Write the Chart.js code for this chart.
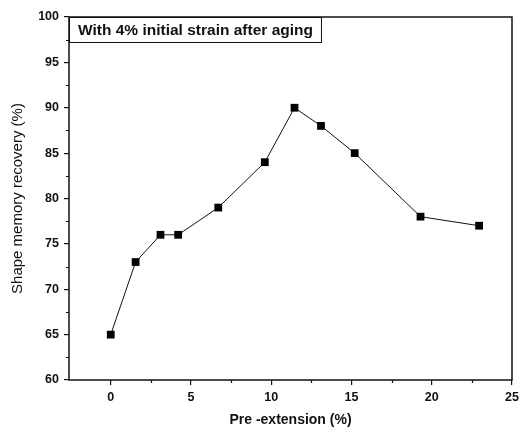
<!DOCTYPE html>
<html>
<head>
<meta charset="utf-8">
<script src="https://cdn.jsdelivr.net/npm/chart.js@4"></script>
<style>
  html, body { margin: 0; padding: 0; background: #fff; }
  #wrap { width: 524px; height: 434px; }
</style>
</head>
<body>
<div id="wrap"><canvas id="myChart" width="524" height="434"></canvas></div>
<script>
// values
const preExtension = [0, 1.55, 3.1, 4.2, 6.7, 9.6, 11.45, 13.1, 15.2, 19.3, 22.95];
const recovery = [65, 73, 76, 76, 79, 84, 90, 88, 85, 78, 77];

const xTicks = [0, 5, 10, 15, 20, 25];
const yTicks = [60, 65, 70, 75, 80, 85, 90, 95, 100];
const xMinorTicks = [2.5, 7.5, 12.5, 17.5, 22.5];
const yMinorTicks = [62.5, 67.5, 72.5, 77.5, 82.5, 87.5, 92.5, 97.5];

const boxLabel = "With 4% initial strain after aging";
const xTitle = "Pre -extension (%)";
const yTitle = "Shape memory recovery (%)";

// frame round the plot, minor ticks and the label box
const framePlugin = {
  id: "frame",
  afterDraw(chart) {
    const ctx = chart.ctx;
    const area = chart.chartArea;
    const xs = chart.scales.x;
    const ys = chart.scales.y;
    ctx.save();
    ctx.strokeStyle = "#111";
    ctx.lineWidth = 1.5;
    ctx.strokeRect(area.left, area.top, area.right - area.left, area.bottom - area.top);

    ctx.lineWidth = 1.2;
    ctx.beginPath();
    xMinorTicks.forEach((v) => {
      const px = Math.round(xs.getPixelForValue(v)) + 0.5;
      ctx.moveTo(px, area.bottom);
      ctx.lineTo(px, area.bottom + 3);
    });
    yMinorTicks.forEach((v) => {
      const py = Math.round(ys.getPixelForValue(v)) + 0.5;
      ctx.moveTo(area.left, py);
      ctx.lineTo(area.left - 3, py);
    });
    ctx.stroke();

    // label box in the upper left corner
    ctx.font = "bold 15.5px 'Liberation Sans', Arial, sans-serif";
    const w = ctx.measureText(boxLabel).width;
    const bx = area.left;
    const by = area.top;
    const bw = w + 17;
    const bh = 25;
    ctx.fillStyle = "#fff";
    ctx.fillRect(bx, by, bw, bh);
    ctx.lineWidth = 1;
    ctx.strokeRect(bx + 0.5, by + 0.5, bw, bh);
    ctx.fillStyle = "#111";
    ctx.textBaseline = "middle";
    ctx.fillText(boxLabel, bx + 9, by + bh / 2 + 1);
    ctx.restore();
  }
};

function mainEvent() {
  const target = document.querySelector("#myChart");
  const points = preExtension.map((x, i) => ({ x: x, y: recovery[i] }));

  const chart = new Chart(target, {
    type: "scatter",
    data: {
      datasets: [{
        data: points,
        showLine: true,
        borderColor: "#111",
        borderWidth: 1,
        pointStyle: "rect",
        pointRadius: 5.5,
        pointBackgroundColor: "#000",
        pointBorderColor: "#000",
        pointBorderWidth: 0
      }]
    },
    options: {
      responsive: false,
      animation: false,
      layout: { padding: { top: 17, right: 12, left: 0, bottom: 0 } },
      plugins: {
        legend: { display: false },
        tooltip: { enabled: false }
      },
      scales: {
        x: {
          type: "linear",
          min: -2.6,
          max: 25,
          afterBuildTicks: (scale) => { scale.ticks = xTicks.map((v) => ({ value: v })); },
          afterFit: (scale) => { scale.height = 54; },
          grid: { drawOnChartArea: false, drawTicks: true, tickLength: 5, color: "#111", lineWidth: 1.2 },
          border: { display: false },
          ticks: {
            color: "#111",
            padding: 5,
            maxRotation: 0,
            font: { family: "'Liberation Sans', Arial, sans-serif", size: 12.5, weight: "bold" }
          },
          title: {
            display: true,
            text: xTitle,
            color: "#111",
            padding: { top: 0, bottom: 5 },
            font: { family: "'Liberation Sans', Arial, sans-serif", size: 14, weight: "bold" }
          }
        },
        y: {
          min: 60,
          max: 100,
          afterBuildTicks: (scale) => { scale.ticks = yTicks.map((v) => ({ value: v })); },
          afterFit: (scale) => { scale.width = 69; },
          grid: { drawOnChartArea: false, drawTicks: true, tickLength: 5, color: "#111", lineWidth: 1.2 },
          border: { display: false },
          ticks: {
            color: "#111",
            padding: 5,
            font: { family: "'Liberation Sans', Arial, sans-serif", size: 12.5, weight: "bold" }
          },
          title: {
            display: true,
            text: yTitle,
            color: "#111",
            padding: { top: 9, bottom: 0 },
            font: { family: "'Liberation Sans', Arial, sans-serif", size: 15 }
          }
        }
      }
    },
    plugins: [framePlugin]
  });
  return chart;
}

document.addEventListener("DOMContentLoaded", () => mainEvent());
</script>
</body>
</html>
